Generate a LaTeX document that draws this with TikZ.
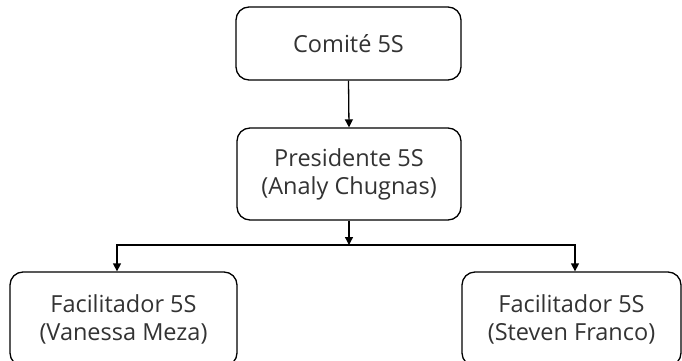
\documentclass[tikz,border=0pt]{standalone}
\usepackage{fontspec}
\setmainfont{Open Sans}
\usetikzlibrary{arrows.meta}
\definecolor{txt}{HTML}{333333}
\begin{document}
\begin{tikzpicture}[x=1pt,y=-1pt,
  box/.style={draw=black, line width=1.3pt, rounded corners=13pt, fill=white,
    align=center, text=txt, font=\fontsize{23.5}{28}\selectfont, inner sep=0pt},
  conn/.style={draw=black, line width=1.3pt, -{Triangle[length=8pt,width=8pt]}}]
\useasboundingbox (0,0) rectangle (682,361);
\clip (0,0) rectangle (682,361);
\node[box, minimum width=225pt, minimum height=73pt] (com) at (348.5,43.5) {Comité 5S};
\node[box, minimum width=224pt, minimum height=92pt] (pres) at (349,174) {Presidente 5S\\(Analy Chugnas)};
\node[box, minimum width=227pt, minimum height=94pt] (fv) at (123.5,319) {Facilitador 5S\\(Vanessa Meza)};
\node[box, minimum width=219pt, minimum height=94pt] (fs) at (571.5,319) {Facilitador 5S\\(Steven Franco)};
\coordinate (j) at (pres.south |- 0,245);
\draw[conn] (com.south) -- (pres.north);
\draw[conn] (pres.south) -- (j);
\draw[conn] (j) -| (117,0 |- fv.north);
\draw[conn] (j) -| (575,0 |- fs.north);
\end{tikzpicture}
\end{document}
